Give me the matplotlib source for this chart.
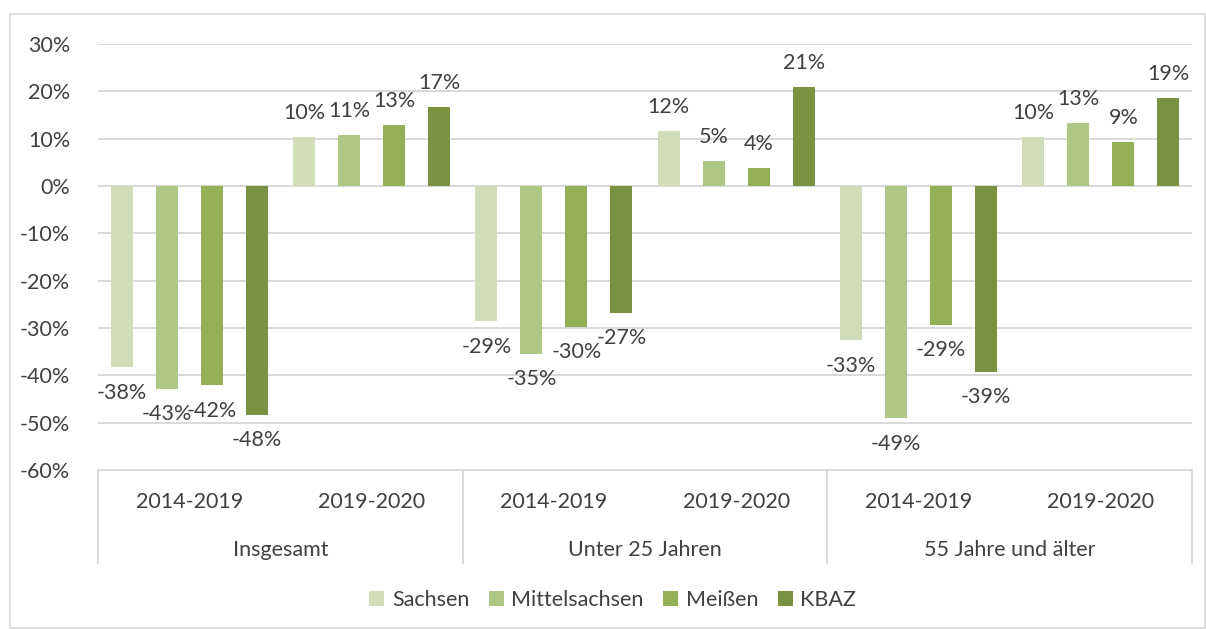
import numpy as np
import matplotlib
matplotlib.use('Agg')
import matplotlib.pyplot as plt
from matplotlib.patches import Rectangle, Patch
import matplotlib.transforms as mtransforms

plt.rcParams['font.family'] = ['Lato', 'DejaVu Sans']

gruppen = ['Insgesamt', 'Unter 25 Jahren', '55 Jahre und älter']
zeitraum = ['2014-2019', '2019-2020']
serien = ['Sachsen', 'Mittelsachsen', 'Meißen', 'KBAZ']

# werte in %, je reihe 6 kategorien (gruppe x zeitraum)
sachsen = [-38.3, 10.4, -28.6, 11.6, -32.6, 10.4]
mittelsachsen = [-42.9, 10.8, -35.4, 5.3, -49.1, 13.3]
meissen = [-42.1, 12.9, -29.8, 3.8, -29.4, 9.4]
kbaz = [-48.4, 16.7, -26.8, 20.9, -39.3, 18.6]

werte = [sachsen, mittelsachsen, meissen, kbaz]
farben = ['#D0DDB8', '#AEC785', '#94B056', '#7A9142']
textfarbe = '#404040'
fs = 15.5

fig = plt.figure(figsize=(12.06, 6.3), dpi=100)
W, H = 1206, 630
ax = fig.add_axes([98 / W, 1 - 470 / H, (1192 - 98) / W, (470 - 44) / H])

# rahmen um das diagramm
fig.patches.append(Rectangle((10 / W, 2 / H), 1195 / W, 1 - 16 / H, transform=fig.transFigure,
                             fill=False, edgecolor='#D9D9D9', linewidth=1.2))

x = np.arange(6)
abstand = 0.247
breite = 0.121
for i, (reihe, farbe) in enumerate(zip(werte, farben)):
    pos = x + (i - 1.5) * abstand
    ax.bar(pos, reihe, width=breite, color=farbe, zorder=3, label=serien[i])
    for p, v in zip(pos, reihe):
        if v >= 0:
            ax.annotate(f'{round(v):.0f}%', (p, v), xytext=(0, 10), textcoords='offset points',
                        ha='center', va='bottom', fontsize=fs, color=textfarbe)
        else:
            ax.annotate(f'{round(v):.0f}%', (p, v), xytext=(0, -11), textcoords='offset points',
                        ha='center', va='top', fontsize=fs, color=textfarbe)

ax.set_xlim(-0.5, 5.5)
ax.set_ylim(-60, 30)
ax.set_yticks(np.arange(-60, 31, 10))
ax.set_yticklabels([f'{t}%' for t in range(-60, 31, 10)], fontsize=fs, color=textfarbe)
ax.tick_params(axis='y', length=0, pad=20)
ax.tick_params(axis='x', length=0, labelbottom=False)
ax.grid(axis='y', color='#D9D9D9', linewidth=1.4, zorder=0)
for s in ax.spines.values():
    s.set_visible(False)
ax.axhline(0, color='#D9D9D9', linewidth=1.4, zorder=2)

# mehrstufige kategorienachse
trans = mtransforms.blended_transform_factory(ax.transData, ax.transAxes)
unten = -93 / 426
ax.plot([-0.5, 5.5], [0, 0], transform=trans, color='#D9D9D9', linewidth=1.4, clip_on=False)
for g in [-0.5, 1.5, 3.5, 5.5]:
    ax.plot([g, g], [0, unten], transform=trans, color='#D9D9D9', linewidth=1.4, clip_on=False)
for k in range(6):
    ax.text(k, -32 / 426, zeitraum[k % 2], transform=trans, ha='center', va='center',
            fontsize=fs, color=textfarbe)
for j, name in enumerate(gruppen):
    ax.text(2 * j + 0.5, -80 / 426, name, transform=trans, ha='center', va='center',
            fontsize=fs, color=textfarbe)

handles = [Patch(facecolor=f, edgecolor='none') for f in farben]
fig.legend(handles, serien, loc='center', bbox_to_anchor=(0.508, 1 - 600 / H), ncol=4,
           frameon=False, fontsize=fs, labelcolor=textfarbe, handlelength=0.7,
           handleheight=0.7, handletextpad=0.35, columnspacing=0.9)

fig.savefig('out.png', dpi=100)
